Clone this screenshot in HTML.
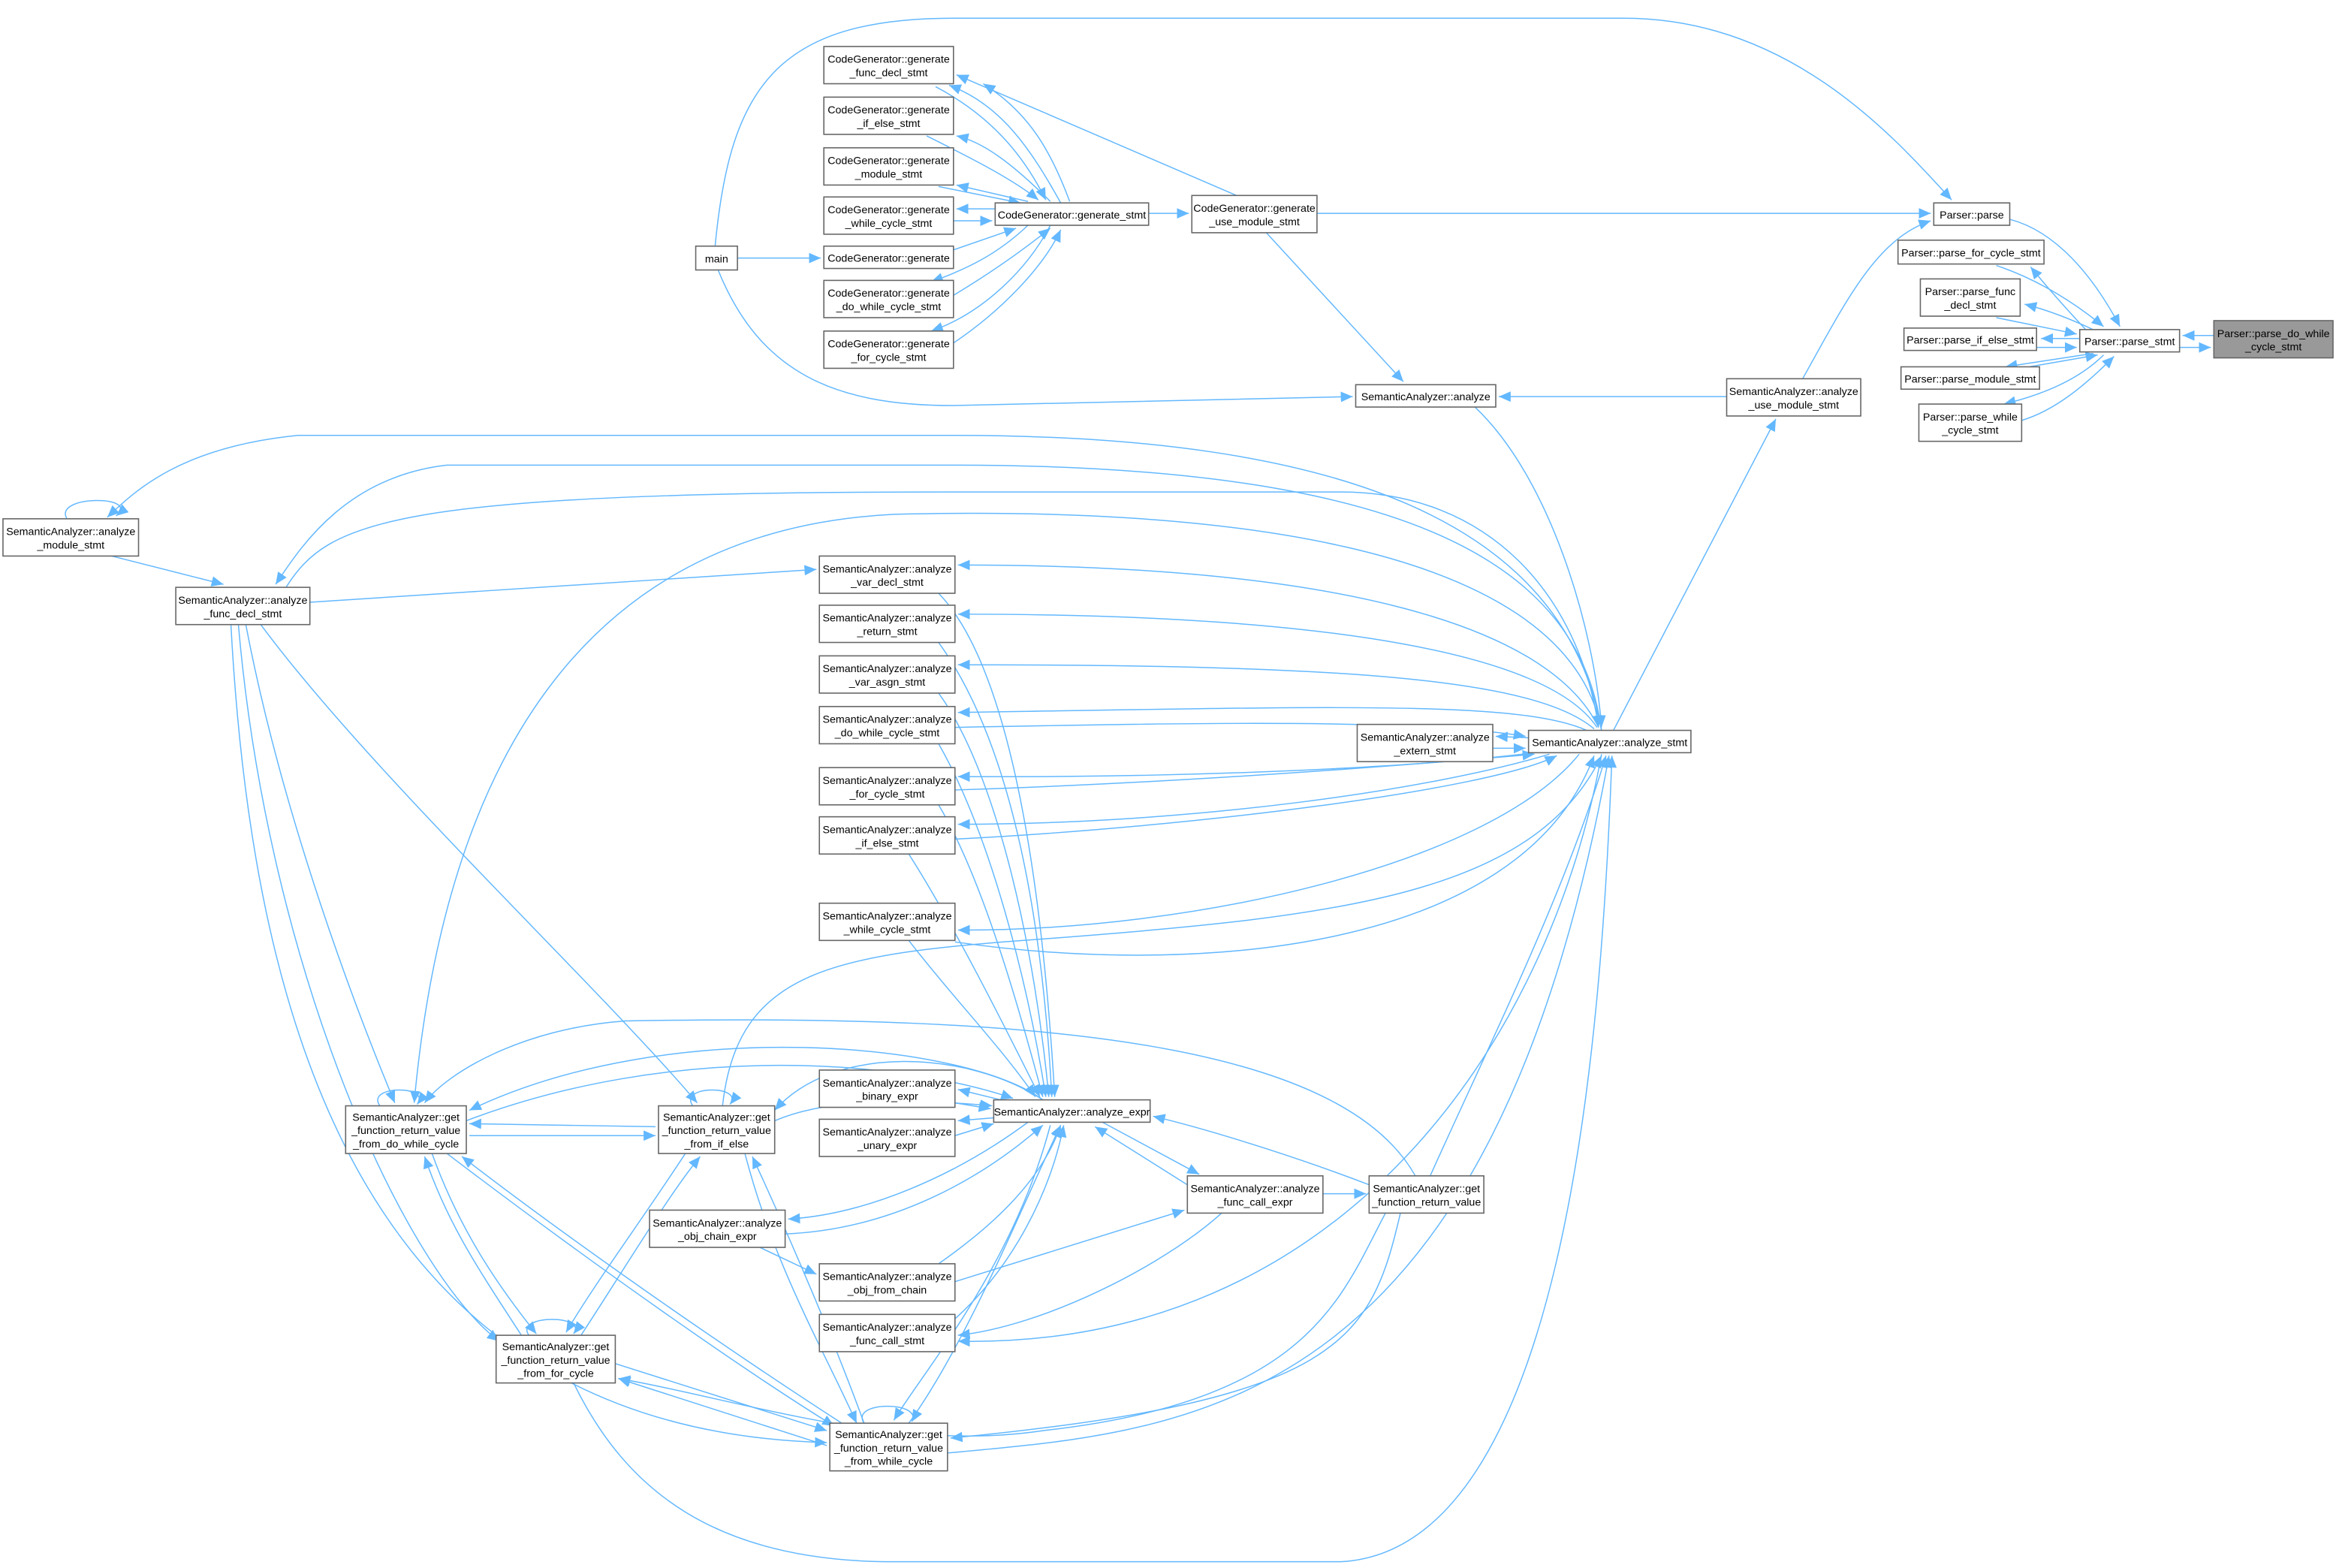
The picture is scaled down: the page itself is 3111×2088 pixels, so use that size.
<!DOCTYPE html>
<html><head><meta charset="utf-8"><style>
html,body{margin:0;padding:0;background:#fff;}
svg{display:block;}
text{font-family:"Liberation Sans",Arial,sans-serif;font-size:7.2px;fill:#000;}
.b{fill:#fff;stroke:#666;stroke-width:0.8;}
.e{fill:none;stroke:#63b8ff;stroke-width:0.75;}
</style></head><body>
<svg width="3111" height="2088" viewBox="0 0 1568 1052" xmlns="http://www.w3.org/2000/svg">
<defs><marker id="a" markerUnits="userSpaceOnUse" markerWidth="9" markerHeight="8" refX="8" refY="3.5" orient="auto"><path d="M0,0 L8,3.5 L0,7 z" fill="#63b8ff"/></marker></defs>
<g class="e" marker-end="url(#a)">
<path d="M1486,225 L1465,225"/><path d="M1463,233 L1484,233"/>
<path d="M1349,147 C1380,155 1405,185 1423,219"/>
<path d="M1400,221 C1385,205 1372,190 1363,179"/>
<path d="M1340,178 C1370,188 1395,205 1412,219"/>
<path d="M1405,221 C1390,214 1375,208 1359,204"/>
<path d="M1340,213 L1394,224"/>
<path d="M1396,227 L1370,227"/><path d="M1367,233 L1394,233"/>
<path d="M1405,237 L1346,246"/><path d="M1362,246 L1408,238"/>
<path d="M1412,238 C1395,255 1370,265 1345,271"/>
<path d="M1357,282 C1380,275 1400,258 1419,239"/>
<path d="M884,143 L1296,143"/>
<path d="M1210,254 C1240,200 1260,160 1296,148"/>
<path d="M480,165 C490,60 520,12 640,12 L1090,12 C1200,12 1270,90 1310,134"/>
<path d="M495,173 L551,173"/>
<path d="M482,181 C510,250 560,272 640,272 L908,266"/>
<path d="M604,180 L682,153"/>
<path d="M771,143 L798,143"/>
<path d="M830,131 L642,50"/>
<path d="M850,156 L942,256"/>
<path d="M712,136 C692,100 672,70 637,57"/>
<path d="M628,58 C670,80 690,110 702,134"/>
<path d="M718,135 C705,100 690,75 660,56"/>
<path d="M705,135 C680,110 660,95 642,91"/>
<path d="M622,91 C650,105 680,120 697,134"/>
<path d="M690,135 L642,124"/><path d="M630,125 L685,136"/>
<path d="M668,140 L642,140"/><path d="M640,148 L666,148"/>
<path d="M690,151 C670,170 650,180 625,189"/>
<path d="M640,198 C670,180 690,165 705,153"/>
<path d="M705,151 C690,180 660,210 625,222"/>
<path d="M640,230 C670,210 700,180 712,154"/>
<path d="M1159,266 L1006,266"/>
<path d="M1083,490 L1192,281"/>
<path d="M990,273 C1040,320 1070,420 1075,488"/>
<path d="M1075,490 C1050,350 900,292 640,292 L200,292 C120,300 90,330 72,347"/>
<path d="M45,348 C35,332 95,332 78,346"/>
<path d="M1075,490 C1060,380 950,312 640,312 L300,312 C230,320 200,370 185,392"/>
<path d="M192,394 C220,350 260,330 640,330 L900,330 C1000,330 1060,400 1073,488"/>
<path d="M75,373 L150,392"/>
<path d="M208,404 L548,382"/>
<path d="M1073,488 C1040,420 900,379 643,379"/>
<path d="M1072,488 C1040,440 900,412 643,412"/>
<path d="M1070,489 C1030,455 900,446 643,446"/>
<path d="M1065,490 C1020,470 900,474 643,478"/>
<path d="M641,488 C800,485 950,482 1024,494"/>
<path d="M1026,495 L1004,494"/><path d="M1002,502 L1024,502"/>
<path d="M1030,505 C950,515 800,522 643,521"/>
<path d="M641,530 C800,525 960,512 1030,506"/>
<path d="M1040,506 C960,530 800,553 643,553"/>
<path d="M641,563 C800,555 1000,530 1045,507"/>
<path d="M1060,506 C1000,580 800,625 643,624"/>
<path d="M641,632 C800,655 1020,640 1070,507"/>
<path d="M630,398 C680,450 700,600 708,736"/>
<path d="M630,431 C680,500 700,620 706,736"/>
<path d="M630,465 C670,520 695,640 704,736"/>
<path d="M630,499 C665,560 690,660 702,736"/>
<path d="M630,540 C660,590 685,680 700,736"/>
<path d="M610,573 C640,620 675,690 698,736"/>
<path d="M610,631 C640,670 670,700 695,736"/>
<path d="M680,740 L643,731"/><path d="M641,740 L665,744"/>
<path d="M668,750 L643,752"/><path d="M641,762 L667,754"/>
<path d="M690,753 C640,790 580,815 529,818"/>
<path d="M527,828 C600,825 660,790 700,755"/>
<path d="M740,753 L805,788"/><path d="M797,795 L735,756"/>
<path d="M919,795 C880,780 820,760 774,749"/>
<path d="M888,801 L917,801"/>
<path d="M630,848 C670,820 700,790 712,755"/>
<path d="M510,837 L548,855"/>
<path d="M641,860 L795,812"/>
<path d="M641,885 C680,850 705,800 714,755"/>
<path d="M820,814 C780,850 700,890 643,896"/>
<path d="M1075,506 C1040,700 900,905 643,900"/>
<path d="M960,789 C1000,700 1050,600 1078,507"/>
<path d="M940,814 C920,900 900,940 638,965"/>
<path d="M636,975 C800,960 1000,950 1080,507"/>
<path d="M950,789 C900,700 700,680 420,685 C350,690 300,720 285,740"/>
<path d="M385,928 C420,1000 480,1048 600,1048 L900,1048 C1050,1040 1075,700 1082,507"/>
<path d="M930,814 C900,870 880,940 700,960 C600,975 500,940 415,925"/>
<path d="M440,756 L315,754"/><path d="M315,762 L440,762"/>
<path d="M465,742 C455,728 500,728 490,741"/>
<path d="M255,742 C245,728 290,728 280,741"/>
<path d="M1075,490 C1050,360 800,340 600,345 C400,355 300,500 278,740"/>
<path d="M485,742 C495,650 560,640 700,630 C900,615 1030,600 1075,507"/>
<path d="M165,419 C190,550 240,680 265,740"/>
<path d="M175,419 C250,520 400,660 468,740"/>
<path d="M160,419 C180,650 270,850 335,900"/>
<path d="M155,419 C170,700 250,960 555,968"/>
<path d="M290,774 C310,830 340,870 360,895"/>
<path d="M350,896 C320,850 300,820 285,776"/>
<path d="M460,774 C430,820 400,860 380,894"/>
<path d="M390,896 C420,850 450,800 470,776"/>
<path d="M300,774 C400,850 500,920 560,957"/>
<path d="M565,955 C480,900 380,830 310,776"/>
<path d="M500,774 C520,850 550,900 575,955"/>
<path d="M580,955 C560,900 530,830 505,776"/>
<path d="M413,915 L555,960"/><path d="M555,970 L415,925"/>
<path d="M580,955 C570,940 620,940 612,954"/>
<path d="M355,896 C345,882 395,882 385,895"/>
<path d="M610,955 C650,900 690,800 712,755"/>
<path d="M705,755 C680,850 620,920 600,953"/>
<path d="M700,738 C650,700 450,680 315,745"/>
<path d="M313,752 C450,700 600,710 680,737"/>
<path d="M520,752 C560,735 620,738 666,742"/>
<path d="M700,738 C650,705 560,700 520,745"/>
</g>
<g>
<rect x="1486" y="215" width="80" height="25" fill="#999" stroke="#666" stroke-width="0.8"/>
<text x="1526" y="226" text-anchor="middle">Parser::parse_do_while</text><text x="1526" y="235" text-anchor="middle">_cycle_stmt</text>
<rect class="b" x="1396" y="221" width="67" height="15"/><text x="1429.5" y="231.5" text-anchor="middle">Parser::parse_stmt</text>
<rect class="b" x="1298" y="136" width="51" height="15"/><text x="1323.5" y="146.5" text-anchor="middle">Parser::parse</text>
<rect class="b" x="1274" y="161" width="98" height="16"/><text x="1323" y="172" text-anchor="middle">Parser::parse_for_cycle_stmt</text>
<rect class="b" x="1289" y="187" width="67" height="25"/><text x="1322.5" y="198" text-anchor="middle">Parser::parse_func</text><text x="1322.5" y="207" text-anchor="middle">_decl_stmt</text>
<rect class="b" x="1278" y="220" width="89" height="15"/><text x="1322.5" y="230.5" text-anchor="middle">Parser::parse_if_else_stmt</text>
<rect class="b" x="1276" y="246" width="93" height="15"/><text x="1322.5" y="256.5" text-anchor="middle">Parser::parse_module_stmt</text>
<rect class="b" x="1288" y="271" width="69" height="25"/><text x="1322.5" y="282" text-anchor="middle">Parser::parse_while</text><text x="1322.5" y="291" text-anchor="middle">_cycle_stmt</text>
<rect class="b" x="800" y="131" width="84" height="25"/><text x="842" y="142" text-anchor="middle">CodeGenerator::generate</text><text x="842" y="151" text-anchor="middle">_use_module_stmt</text>
<rect class="b" x="668" y="136" width="103" height="15"/><text x="719.5" y="146.5" text-anchor="middle">CodeGenerator::generate_stmt</text>
<rect class="b" x="553" y="31" width="87" height="25"/><text x="596.5" y="42" text-anchor="middle">CodeGenerator::generate</text><text x="596.5" y="51" text-anchor="middle">_func_decl_stmt</text>
<rect class="b" x="553" y="65" width="87" height="25"/><text x="596.5" y="76" text-anchor="middle">CodeGenerator::generate</text><text x="596.5" y="85" text-anchor="middle">_if_else_stmt</text>
<rect class="b" x="553" y="99" width="87" height="25"/><text x="596.5" y="110" text-anchor="middle">CodeGenerator::generate</text><text x="596.5" y="119" text-anchor="middle">_module_stmt</text>
<rect class="b" x="553" y="132" width="87" height="25"/><text x="596.5" y="143" text-anchor="middle">CodeGenerator::generate</text><text x="596.5" y="152" text-anchor="middle">_while_cycle_stmt</text>
<rect class="b" x="553" y="165" width="87" height="15"/><text x="596.5" y="175.5" text-anchor="middle">CodeGenerator::generate</text>
<rect class="b" x="553" y="188" width="87" height="25"/><text x="596.5" y="199" text-anchor="middle">CodeGenerator::generate</text><text x="596.5" y="208" text-anchor="middle">_do_while_cycle_stmt</text>
<rect class="b" x="553" y="222" width="87" height="25"/><text x="596.5" y="233" text-anchor="middle">CodeGenerator::generate</text><text x="596.5" y="242" text-anchor="middle">_for_cycle_stmt</text>
<rect class="b" x="467" y="165" width="28" height="16"/><text x="481" y="176" text-anchor="middle">main</text>
<rect class="b" x="910" y="258" width="94" height="15"/><text x="957" y="268.5" text-anchor="middle">SemanticAnalyzer::analyze</text>
<rect class="b" x="1159" y="254" width="90" height="25"/><text x="1204" y="265" text-anchor="middle">SemanticAnalyzer::analyze</text><text x="1204" y="274" text-anchor="middle">_use_module_stmt</text>
<rect class="b" x="1026" y="490" width="109" height="15"/><text x="1080.5" y="500.5" text-anchor="middle">SemanticAnalyzer::analyze_stmt</text>
<rect class="b" x="2" y="348" width="91" height="25"/><text x="47.5" y="359" text-anchor="middle">SemanticAnalyzer::analyze</text><text x="47.5" y="368" text-anchor="middle">_module_stmt</text>
<rect class="b" x="118" y="394" width="90" height="25"/><text x="163" y="405" text-anchor="middle">SemanticAnalyzer::analyze</text><text x="163" y="414" text-anchor="middle">_func_decl_stmt</text>
<rect class="b" x="550" y="373" width="91" height="25"/><text x="595.5" y="384" text-anchor="middle">SemanticAnalyzer::analyze</text><text x="595.5" y="393" text-anchor="middle">_var_decl_stmt</text>
<rect class="b" x="550" y="406" width="91" height="25"/><text x="595.5" y="417" text-anchor="middle">SemanticAnalyzer::analyze</text><text x="595.5" y="426" text-anchor="middle">_return_stmt</text>
<rect class="b" x="550" y="440" width="91" height="25"/><text x="595.5" y="451" text-anchor="middle">SemanticAnalyzer::analyze</text><text x="595.5" y="460" text-anchor="middle">_var_asgn_stmt</text>
<rect class="b" x="550" y="474" width="91" height="25"/><text x="595.5" y="485" text-anchor="middle">SemanticAnalyzer::analyze</text><text x="595.5" y="494" text-anchor="middle">_do_while_cycle_stmt</text>
<rect class="b" x="911" y="486" width="91" height="25"/><text x="956.5" y="497" text-anchor="middle">SemanticAnalyzer::analyze</text><text x="956.5" y="506" text-anchor="middle">_extern_stmt</text>
<rect class="b" x="550" y="515" width="91" height="25"/><text x="595.5" y="526" text-anchor="middle">SemanticAnalyzer::analyze</text><text x="595.5" y="535" text-anchor="middle">_for_cycle_stmt</text>
<rect class="b" x="550" y="548" width="91" height="25"/><text x="595.5" y="559" text-anchor="middle">SemanticAnalyzer::analyze</text><text x="595.5" y="568" text-anchor="middle">_if_else_stmt</text>
<rect class="b" x="550" y="606" width="91" height="25"/><text x="595.5" y="617" text-anchor="middle">SemanticAnalyzer::analyze</text><text x="595.5" y="626" text-anchor="middle">_while_cycle_stmt</text>
<rect class="b" x="550" y="718" width="91" height="25"/><text x="595.5" y="729" text-anchor="middle">SemanticAnalyzer::analyze</text><text x="595.5" y="738" text-anchor="middle">_binary_expr</text>
<rect class="b" x="667" y="738" width="105" height="15"/><text x="719.5" y="748.5" text-anchor="middle">SemanticAnalyzer::analyze_expr</text>
<rect class="b" x="550" y="751" width="91" height="25"/><text x="595.5" y="762" text-anchor="middle">SemanticAnalyzer::analyze</text><text x="595.5" y="771" text-anchor="middle">_unary_expr</text>
<rect class="b" x="436" y="812" width="91" height="25"/><text x="481.5" y="823" text-anchor="middle">SemanticAnalyzer::analyze</text><text x="481.5" y="832" text-anchor="middle">_obj_chain_expr</text>
<rect class="b" x="797" y="789" width="91" height="25"/><text x="842.5" y="800" text-anchor="middle">SemanticAnalyzer::analyze</text><text x="842.5" y="809" text-anchor="middle">_func_call_expr</text>
<rect class="b" x="919" y="789" width="77" height="25"/><text x="957.5" y="800" text-anchor="middle">SemanticAnalyzer::get</text><text x="957.5" y="809" text-anchor="middle">_function_return_value</text>
<rect class="b" x="550" y="848" width="91" height="25"/><text x="595.5" y="859" text-anchor="middle">SemanticAnalyzer::analyze</text><text x="595.5" y="868" text-anchor="middle">_obj_from_chain</text>
<rect class="b" x="550" y="882" width="91" height="25"/><text x="595.5" y="893" text-anchor="middle">SemanticAnalyzer::analyze</text><text x="595.5" y="902" text-anchor="middle">_func_call_stmt</text>
<rect class="b" x="232" y="742" width="81" height="32"/><text x="272.5" y="752" text-anchor="middle">SemanticAnalyzer::get</text><text x="272.5" y="761" text-anchor="middle">_function_return_value</text><text x="272.5" y="770" text-anchor="middle">_from_do_while_cycle</text>
<rect class="b" x="442" y="742" width="78" height="32"/><text x="481" y="752" text-anchor="middle">SemanticAnalyzer::get</text><text x="481" y="761" text-anchor="middle">_function_return_value</text><text x="481" y="770" text-anchor="middle">_from_if_else</text>
<rect class="b" x="333" y="896" width="80" height="32"/><text x="373" y="906" text-anchor="middle">SemanticAnalyzer::get</text><text x="373" y="915" text-anchor="middle">_function_return_value</text><text x="373" y="924" text-anchor="middle">_from_for_cycle</text>
<rect class="b" x="557" y="955" width="79" height="32"/><text x="596.5" y="965" text-anchor="middle">SemanticAnalyzer::get</text><text x="596.5" y="974" text-anchor="middle">_function_return_value</text><text x="596.5" y="983" text-anchor="middle">_from_while_cycle</text>
</g>
</svg>
</body></html>
